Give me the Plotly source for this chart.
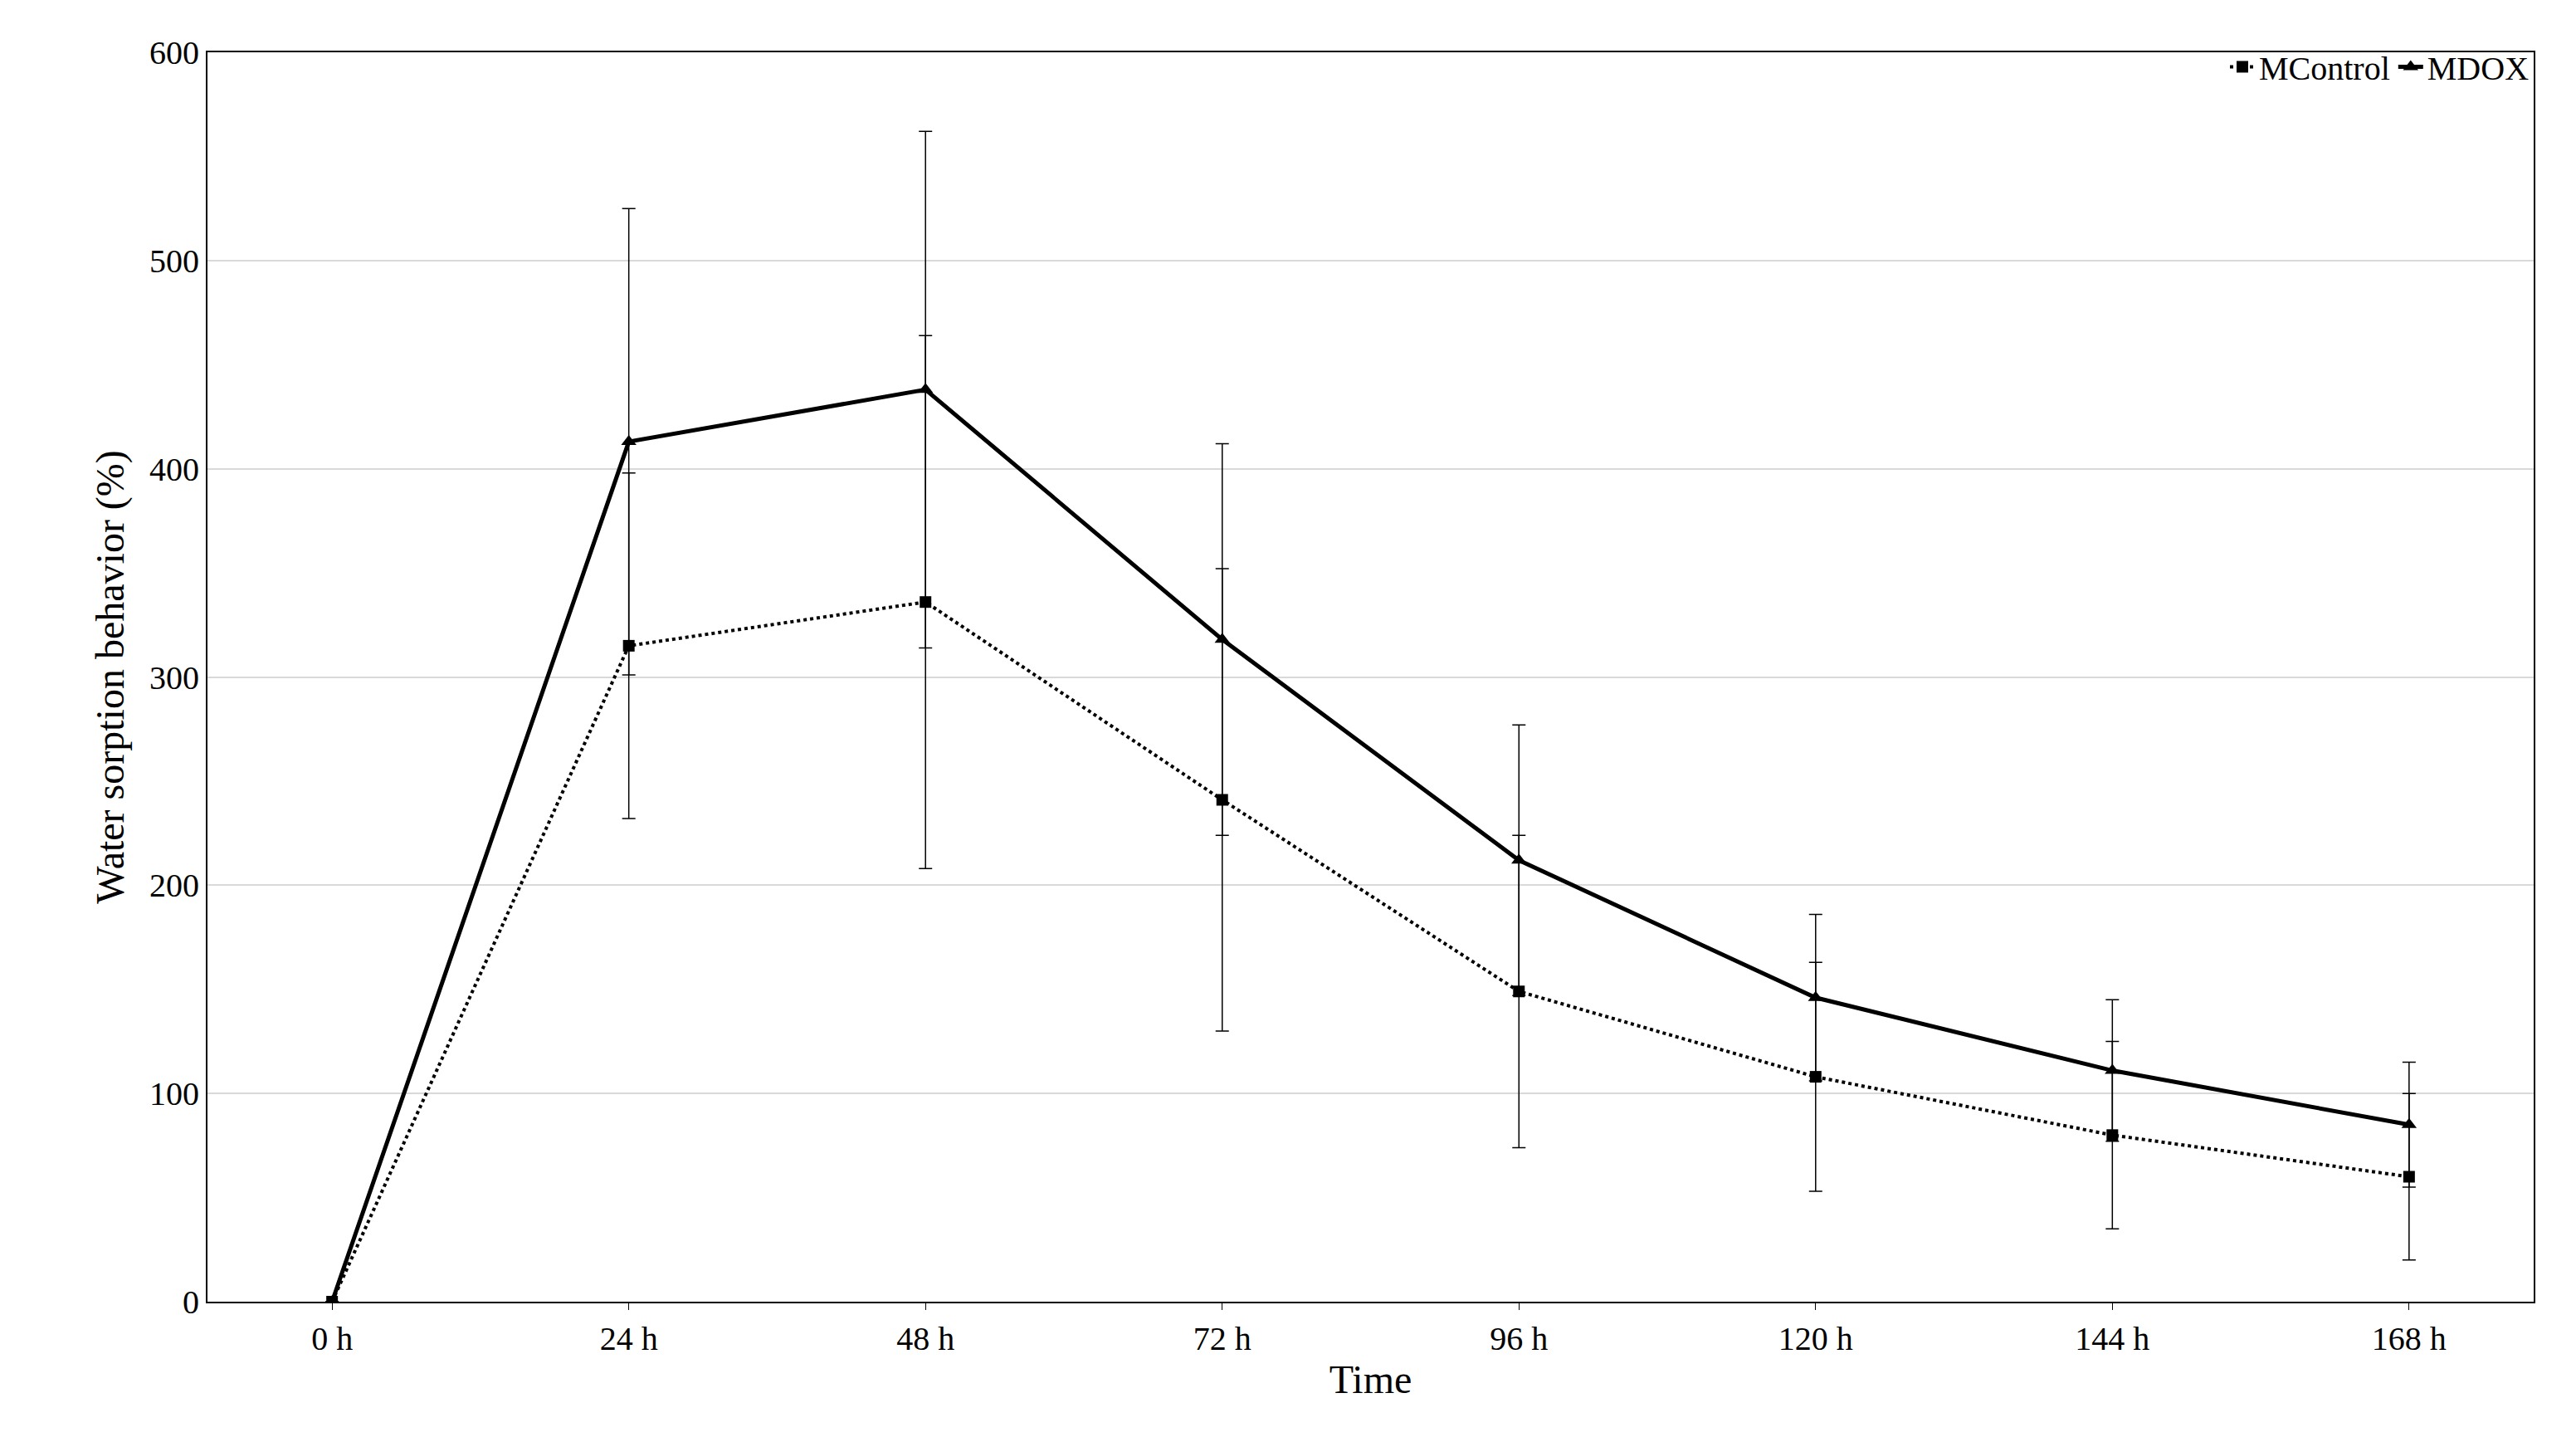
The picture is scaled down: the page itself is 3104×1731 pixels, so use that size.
import plotly.graph_objects as go

times = ["0 h", "24 h", "48 h", "72 h", "96 h", "120 h", "144 h", "168 h"]
mcontrol = [0, 315, 336, 241, 149, 108, 80, 60]
mcontrol_err = [0, 83, 128, 111, 75, 55, 45, 40]
mdox = [0, 413, 438, 318, 212, 146, 111, 85]
mdox_err = [0, 112, 124, 94, 65, 40, 34, 30]

font = "Liberation Serif, Times New Roman, serif"
fig = go.Figure()
fig.add_trace(go.Scatter(x=times, y=mcontrol, name="MControl", mode="lines+markers",
    line=dict(color="black", width=4, dash="dot"), marker=dict(symbol="square", size=14, color="black"),
    error_y=dict(type="data", array=mcontrol_err, color="black", thickness=1.5, width=8)))
fig.add_trace(go.Scatter(x=times, y=mdox, name="MDOX", mode="lines+markers",
    line=dict(color="black", width=5), marker=dict(symbol="triangle-up", size=16, color="black"),
    error_y=dict(type="data", array=mdox_err, color="black", thickness=1.5, width=8)))

fig.update_layout(
    width=3104, height=1731, plot_bgcolor="white", paper_bgcolor="white",
    margin=dict(l=242, r=59, t=55, b=171),
    font=dict(family=font, size=40, color="black"),
    legend=dict(orientation="h", x=1, xanchor="right", y=1.01, yanchor="top",
                bgcolor="rgba(0,0,0,0)", font=dict(size=40)),
    xaxis=dict(title=dict(text="Time", standoff=10), showline=True, linecolor="black", linewidth=2,
               mirror=True, ticks="outside", ticklen=8, tickcolor="black", showgrid=False),
    yaxis=dict(title=dict(text="Water sorption behavior (%)"), range=[0, 600], dtick=100,
               showline=True, linecolor="black", linewidth=2, mirror=True,
               gridcolor="#d9d9d9", gridwidth=2, ticks="", zeroline=False),
)
fig.write_html("out.html")
